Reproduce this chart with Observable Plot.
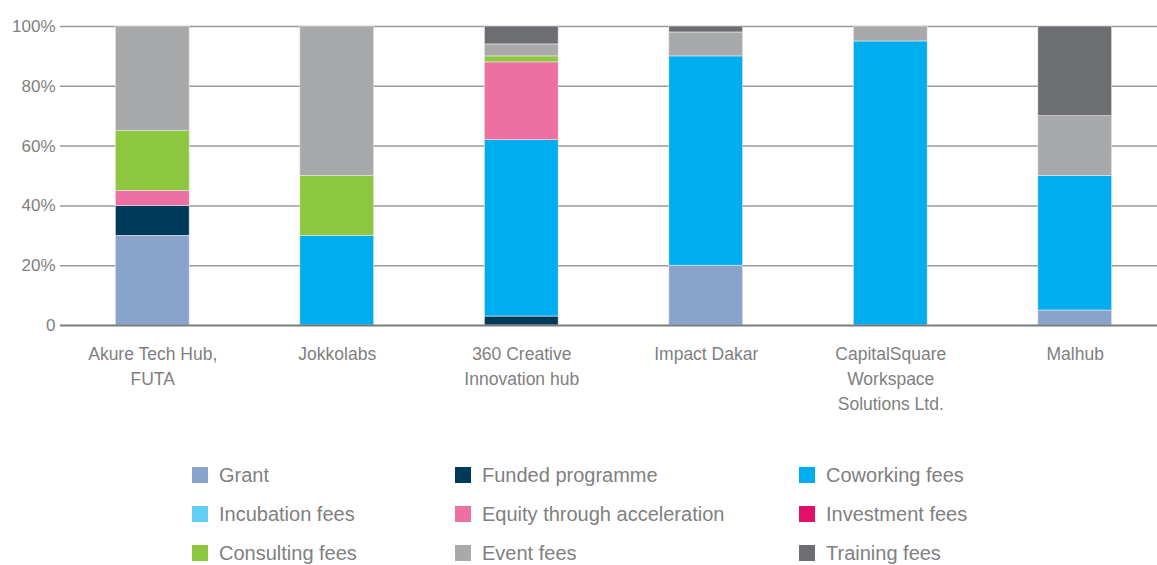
<!DOCTYPE html>
<html>
<head>
<meta charset="utf-8">
<script src="https://cdn.jsdelivr.net/npm/d3@7"></script>
<script src="https://cdn.jsdelivr.net/npm/@observablehq/plot@0.6"></script>
<style>
  html, body { margin: 0; padding: 0; background: #fff; overflow: hidden; }
  body { width: 1157px; height: 565px; font-family: "Liberation Sans", Arial, sans-serif; }
  #chart svg { display: block; }
  #legend { position: relative; height: 135px; }
  .item { position: absolute; display: flex; align-items: center; font-size: 20px; line-height: 22px; color: #808080; white-space: nowrap; }
  .sw { width: 16px; height: 16px; margin-right: 11px; flex: none; }
</style>
</head>
<body>
<div id="chart"></div>
<div id="legend"></div>
<script>
const hubs = ["Akure Tech Hub,\nFUTA", "Jokkolabs", "360 Creative\nInnovation hub", "Impact Dakar", "CapitalSquare\nWorkspace\nSolutions Ltd.", "Malhub"];
const categories = ["Grant", "Funded programme", "Coworking fees", "Incubation fees", "Equity through acceleration", "Investment fees", "Consulting fees", "Event fees", "Training fees"];
const colors = ["#8AA3CC", "#003A5A", "#00AEEF", "#62CEF5", "#EE6FA2", "#E2106A", "#8DC63F", "#A8A9AB", "#6D6E72"];
// values per category, in hub order (percent)
const grant        = [30, 0, 0, 20, 0, 5];
const funded       = [10, 0, 3, 0, 0, 0];
const coworking    = [0, 30, 59, 70, 95, 45];
const incubation   = [0, 0, 0, 0, 0, 0];
const equity       = [5, 0, 26, 0, 0, 0];
const investment   = [0, 0, 0, 0, 0, 0];
const consulting   = [20, 20, 2, 0, 0, 0];
const eventFees    = [35, 50, 4, 8, 5, 20];
const training     = [0, 0, 6, 2, 0, 30];
const yTicks = [0, 20, 40, 60, 80, 100];
const yTickLabels = ["0", "20%", "40%", "60%", "80%", "100%"];
const legendOrder = ["Grant", "Funded programme", "Coworking fees", "Incubation fees", "Equity through acceleration", "Investment fees", "Consulting fees", "Event fees", "Training fees"];

const series = [grant, funded, coworking, incubation, equity, investment, consulting, eventFees, training];
const data = [];
series.forEach((vals, ci) => vals.forEach((v, hi) => {
  if (v > 0) data.push({hub: hubs[hi], cat: categories[ci], value: v});
}));

const chart = Plot.plot({
  width: 1157,
  height: 430,
  marginTop: 26,
  marginBottom: 105,
  marginLeft: 60,
  marginRight: -10,
  style: {fontFamily: "'Liberation Sans', Arial, sans-serif", color: "#808080", background: "#fff"},
  x: {domain: hubs, paddingInner: 0.6, paddingOuter: 0.3, round: false, label: null},
  y: {domain: [0, 100], label: null},
  color: {domain: categories, range: colors},
  marks: [
    Plot.ruleY(yTicks.filter(d => d > 0), {stroke: "#9a9a9a", strokeWidth: 1.5}),
    Plot.barY(data, Plot.stackY({x: "hub", y: "value", fill: "cat", order: categories, stroke: "#e8e8e8", strokeWidth: 0.6})),
    Plot.ruleY([0], {stroke: "#7a7a7a", strokeWidth: 2}),
    Plot.axisY({ticks: yTicks, tickFormat: (d) => yTickLabels[yTicks.indexOf(d)], tickSize: 0, tickPadding: 5, fontSize: 17, fill: "#808080", label: null}),
    Plot.axisX({tickSize: 0, tickPadding: 17, fontSize: 17.5, lineHeight: 1.43, fill: "#808080", label: null})
  ]
});
document.getElementById("chart").appendChild(chart);

const legend = document.getElementById("legend");
const colX = [192, 455, 799];
legendOrder.forEach((name, i) => {
  const col = i % 3, row = Math.floor(i / 3);
  const el = document.createElement("div");
  el.className = "item";
  el.style.left = colX[col] + "px";
  el.style.top = (34 + row * 39) + "px";
  const sw = document.createElement("span");
  sw.className = "sw";
  sw.style.background = colors[categories.indexOf(name)];
  const t = document.createElement("span");
  t.textContent = name;
  el.appendChild(sw); el.appendChild(t);
  legend.appendChild(el);
});
</script>
</body>
</html>
